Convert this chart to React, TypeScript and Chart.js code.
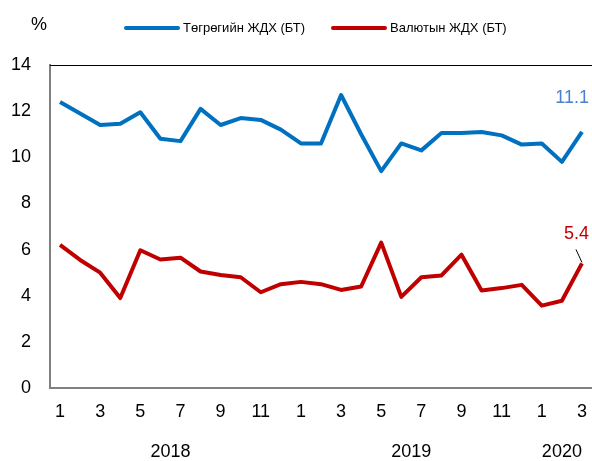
import React, { useEffect, useRef } from "react";
import { Chart, registerables } from "chart.js";

Chart.register(...registerables);

const months = ["1","2","3","4","5","6","7","8","9","10","11","12","1","2","3","4","5","6","7","8","9","10","11","12","1","2","3"];
const years = ["2018", "2019", "2020"];
const yearSpans = [[0, 11], [12, 23], [24, 26]];
const seriesNames = ["Төгрөгийн ЖДХ (БТ)", "Валютын ЖДХ (БТ)"];
const tugrik = [12.4, 11.9, 11.4, 11.45, 11.95, 10.8, 10.7, 12.1, 11.4, 11.7, 11.62, 11.2, 10.6, 10.6, 12.7, 11.0, 9.4, 10.6, 10.3, 11.05, 11.05, 11.1, 10.95, 10.55, 10.6, 9.8, 11.1];
const currency = [6.2, 5.55, 5.0, 3.9, 5.97, 5.57, 5.65, 5.05, 4.9, 4.8, 4.15, 4.5, 4.6, 4.5, 4.25, 4.4, 6.3, 3.95, 4.8, 4.88, 5.78, 4.23, 4.33, 4.47, 3.57, 3.78, 5.4];
const lastLabels = ["11.1", "5.4"];

const BLUE = "#0070C0";
const RED = "#C00000";

function hasFont(name: string) {
  const c = document.createElement("canvas").getContext("2d")!;
  const s = "abcdefghijklm0123456789";
  c.font = "20px monospace";
  const a = c.measureText(s).width;
  c.font = `20px '${name}', monospace`;
  const b = c.measureText(s).width;
  return Math.abs(a - b) > 0.5;
}

export default function App() {
  const ref = useRef<HTMLCanvasElement>(null);
  useEffect(() => {
    const narrow = hasFont("Liberation Sans Narrow");
    const FONT = narrow ? "'Liberation Sans Narrow', 'Liberation Sans', Arial, sans-serif" : "'Liberation Sans', Arial, sans-serif";
    const TICK = narrow ? 20 : 18;
    const LEG = narrow ? 15 : 13;
    const LAB = narrow ? 20 : 18;
    const extras = {
      id: "extras",
      afterDraw(chart: any) {
        const ctx = chart.ctx;
        const x = chart.scales.x;
        const y = chart.scales.y;
        const ca = chart.chartArea;
        ctx.save();
        const ty = Math.round(y.getPixelForValue(14)) + 0.5;
        ctx.strokeStyle = "#000";
        ctx.lineWidth = 1;
        ctx.beginPath();
        ctx.moveTo(ca.left, ty);
        ctx.lineTo(ca.right, ty);
        ctx.stroke();
        ctx.fillStyle = "#000";
        ctx.font = `${TICK}px ${FONT}`;
        ctx.textAlign = "left";
        ctx.textBaseline = "middle";
        ctx.fillText("%", 31, 25);
        const legend = [
          { name: seriesNames[0], color: BLUE, x0: 126 },
          { name: seriesNames[1], color: RED, x0: 333 },
        ];
        ctx.font = `${LEG}px ${FONT}`;
        legend.forEach((l) => {
          ctx.strokeStyle = l.color;
          ctx.lineWidth = 4;
          ctx.lineCap = "round";
          ctx.beginPath();
          ctx.moveTo(l.x0, 28);
          ctx.lineTo(l.x0 + 52, 28);
          ctx.stroke();
          ctx.fillStyle = "#000";
          ctx.fillText(l.name, l.x0 + 57, 28);
        });
        ctx.font = `${TICK}px ${FONT}`;
        ctx.textAlign = "center";
        ctx.fillStyle = "#000";
        years.forEach((yr, i) => {
          const [a, b] = yearSpans[i];
          const cx = (x.getPixelForValue(a) + x.getPixelForValue(b)) / 2;
          ctx.fillText(yr, cx, 452);
        });
        const n = tugrik.length - 1;
        const px = x.getPixelForValue(n);
        ctx.font = `${LAB}px ${FONT}`;
        ctx.textAlign = "right";
        ctx.fillStyle = "#4A7FD0";
        ctx.fillText(lastLabels[0], 589, 98);
        ctx.fillStyle = RED;
        ctx.fillText(lastLabels[1], 589, 234);
        const py = y.getPixelForValue(currency[n]);
        ctx.strokeStyle = "#000";
        ctx.lineWidth = 1;
        ctx.lineCap = "butt";
        ctx.beginPath();
        ctx.moveTo(px - 6, py - 14);
        ctx.lineTo(px, py - 1);
        ctx.stroke();
        ctx.restore();
      },
    };
    const chart = new Chart(ref.current!, {
      type: "line",
      data: {
        labels: months,
        datasets: [
          { label: seriesNames[0], data: tugrik, borderColor: BLUE, borderWidth: 4, pointRadius: 0, tension: 0, borderJoinStyle: "round" },
          { label: seriesNames[1], data: currency, borderColor: RED, borderWidth: 4, pointRadius: 0, tension: 0, borderJoinStyle: "round" },
        ],
      },
      options: {
        animation: false,
        responsive: false,
        maintainAspectRatio: false,
        layout: { padding: { top: 65, left: 0, right: 0, bottom: 0 } },
        plugins: { legend: { display: false }, tooltip: { enabled: false } },
        scales: {
          x: {
            offset: true,
            grid: { display: true, drawOnChartArea: false, drawTicks: true, tickLength: 13, tickColor: "rgba(0,0,0,0)" },
            border: { display: true, color: "#808080", width: 2 },
            ticks: {
              autoSkip: false,
              maxRotation: 0,
              padding: 0,
              color: "#000",
              font: { family: FONT, size: TICK },
              callback: (v: any, i: number) => (i % 2 === 0 ? months[i] : ""),
            },
            afterFit: (s: any) => { s.height = 73; },
          },
          y: {
            min: 0,
            max: 14,
            grid: { display: false, drawTicks: false },
            border: { display: true, color: "#808080", width: 2 },
            ticks: {
              stepSize: 2,
              padding: 19,
              color: "#000",
              font: { family: FONT, size: TICK },
            },
            afterFit: (s: any) => { s.width = 50; },
          },
        },
      },
      plugins: [extras],
    });
    return () => chart.destroy();
  }, []);
  return (
    <div style={{ position: "fixed", left: 0, top: 0, width: 592, height: 461, background: "#fff" }}>
      <canvas ref={ref} width={592} height={461} />
    </div>
  );
}
